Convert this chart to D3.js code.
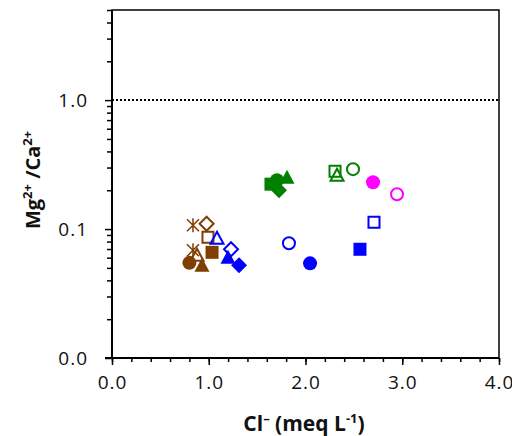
<!DOCTYPE html>
<html>
<head>
<meta charset="utf-8">
<script src="https://cdn.jsdelivr.net/npm/d3@7/dist/d3.min.js"></script>
<style>
    body { margin: 0; background: #fff; }
    svg text { font-family: "Open Sans", sans-serif; fill: #111; }
</style>
</head>
<body>
<svg id="svg" width="512" height="436"></svg>
<script>
// data
var clValues    = [0.837, 0.978, 0.992, 0.837, 0.879, 1.034, 0.800, 0.930,
                   1.085, 1.230, 1.199, 1.313, 1.829, 2.047, 2.708, 2.563,
                   1.643, 1.726, 1.705, 1.809, 2.305, 2.326, 2.491,
                   2.698, 2.946];
var ratioValues = [0.107, 0.110, 0.0864, 0.0684, 0.0626, 0.066, 0.0547, 0.0523,
                   0.0848, 0.0697, 0.0604, 0.0523, 0.0776, 0.0542, 0.1129, 0.0697,
                   0.2229, 0.2002, 0.2394, 0.2527, 0.2813, 0.2618, 0.2914,
                   0.231, 0.1864];
var pointGroup  = ['brown','brown','brown','brown','brown','brown','brown','brown',
                   'blue','blue','blue','blue','blue','blue','blue','blue',
                   'green','green','green','green','green','green','green',
                   'magenta','magenta'];
var pointShape  = ['star','diamond','square','star','triangle','square','circle','triangle',
                   'triangle','diamond','triangle','diamond','circle','circle','square','square',
                   'square','diamond','circle','triangle','square','triangle','circle',
                   'circle','circle'];
var pointOpen   = [1,1,1,1,1,0,0,0,
                   1,1,0,0,1,0,1,0,
                   0,0,0,0,1,1,1,
                   0,1];

var group2color = {
    'brown': '#7f3f00',
    'blue': '#0000ff',
    'green': '#008000',
    'magenta': '#ff00ff'
};

var xTicks = [0, 1, 2, 3, 4];
var yTicks = [0.01, 0.1, 1];

/*************************** scales ******************************/

var svg = d3.select("#svg");
var plotLeft = 112, plotRight = 499, plotTop = 10, plotBottom = 358;

var x = d3.scaleLinear().domain([0, 4]).range([plotLeft, plotRight]);
var y = d3.scaleLog().domain([0.01, 5]).range([plotBottom, plotTop]);

var yMinor = [];
[0.01, 0.1, 1].forEach(function(d) {
    for (var k = 2; k <= 9; k++) {
        if (d * k <= 5) yMinor.push(d * k);
    }
});

/*************************** axes ******************************/

function styleTicks(g) {
    g.select(".domain").remove();
    g.selectAll("line").attr("stroke-width", 1.5);
    g.selectAll("text").attr("font-size", 19).attr("font-family", null).attr("letter-spacing", 1);
}

svg.append("g").attr("transform", "translate(0," + plotBottom + ")")
    .call(d3.axisBottom(x).tickValues(d3.range(0, 4.01, 0.2)).tickSize(4).tickFormat(""))
    .call(styleTicks);

svg.append("g").attr("transform", "translate(0," + plotBottom + ")")
    .call(d3.axisBottom(x).tickValues(xTicks).tickSize(7).tickPadding(11).tickFormat(d3.format(".1f")))
    .call(styleTicks);

svg.append("g").attr("transform", "translate(" + plotLeft + ",0)")
    .call(d3.axisLeft(y).tickValues(yMinor).tickSize(5).tickFormat(""))
    .call(styleTicks);

svg.append("g").attr("transform", "translate(" + plotLeft + ",0)")
    .call(d3.axisLeft(y).tickValues(yTicks).tickSize(7).tickPadding(17).tickFormat(d3.format(".1f")))
    .call(styleTicks);

// frame
svg.append("rect")
    .attr("x", plotLeft).attr("y", plotTop)
    .attr("width", plotRight - plotLeft).attr("height", plotBottom - plotTop)
    .attr("fill", "none").attr("stroke", "#000").attr("stroke-width", 1.5);
svg.append("line")
    .attr("x1", plotLeft).attr("x2", plotLeft).attr("y1", plotTop).attr("y2", plotBottom)
    .attr("stroke", "#000").attr("stroke-width", 2);
svg.append("line")
    .attr("x1", plotLeft - 7).attr("x2", plotRight).attr("y1", plotBottom).attr("y2", plotBottom)
    .attr("stroke", "#000").attr("stroke-width", 2);

// Mg/Ca = 1 reference
svg.append("line")
    .attr("x1", plotLeft).attr("x2", plotRight).attr("y1", y(1)).attr("y2", y(1))
    .attr("stroke", "#000").attr("stroke-width", 2).attr("stroke-dasharray", "2,2");

/*************************** titles ******************************/

var xt = svg.append("text")
    .attr("x", 304).attr("y", 431)
    .attr("text-anchor", "middle").attr("font-size", 21).attr("font-weight", "bold");
xt.append("tspan").text("Cl");
xt.append("tspan").attr("dy", -8).attr("font-size", 13).text("\u2013");
xt.append("tspan").attr("dy", 8).text(" (meq L");
xt.append("tspan").attr("dy", -8).attr("font-size", 13).text("-1");
xt.append("tspan").attr("dy", 8).text(")");

var yt = svg.append("text")
    .attr("transform", "translate(40,180) rotate(-90)")
    .attr("text-anchor", "middle").attr("font-size", 20).attr("font-weight", "bold");
yt.append("tspan").text("Mg");
yt.append("tspan").attr("dy", -8).attr("font-size", 13).text("2+");
yt.append("tspan").attr("dy", 8).text(" /Ca");
yt.append("tspan").attr("dy", -8).attr("font-size", 13).text("2+");

/*************************** markers ******************************/

function markerPath(shape, open) {
    var s = open ? 6 : 7; // half size
    if (shape == 'circle') {
        return "M" + (-s) + ",0A" + s + "," + s + " 0 1,0 " + s + ",0A" + s + "," + s + " 0 1,0 " + (-s) + ",0Z";
    }
    if (shape == 'square') {
        return "M" + (-s + 0.5) + "," + (-s + 0.5) + "H" + (s - 0.5) + "V" + (s - 0.5) + "H" + (-s + 0.5) + "Z";
    }
    if (shape == 'diamond') {
        var d = s + 1;
        return "M0," + (-d) + "L" + d + ",0L0," + d + "L" + (-d) + ",0Z";
    }
    if (shape == 'triangle') {
        return "M0," + (-s - 0.5) + "L" + (s + 0.5) + "," + (s - 0.5) + "L" + (-s - 0.5) + "," + (s - 0.5) + "Z";
    }
    // star: X plus vertical bar
    var r = 6;
    return "M" + (-r) + "," + (-r) + "L" + r + "," + r + "M" + (-r) + "," + r + "L" + r + "," + (-r) +
           "M0," + (-r - 1) + "L0," + (r + 1);
}

var order = d3.range(clValues.length);

svg.append("g").attr("class", "points").selectAll("path").data(order)
    .enter().append("path")
    .attr("transform", function(i) {
        return "translate(" + x(clValues[i]) + "," + y(ratioValues[i]) + ")";
    })
    .attr("d", function(i) { return markerPath(pointShape[i], pointOpen[i]); })
    .attr("fill", function(i) { return pointOpen[i] ? "none" : group2color[pointGroup[i]]; })
    .attr("stroke", function(i) { return pointOpen[i] ? group2color[pointGroup[i]] : "none"; })
    .attr("stroke-width", function(i) { return pointShape[i] == 'star' ? 1.5 : 2; });
</script>
</body>
</html>
